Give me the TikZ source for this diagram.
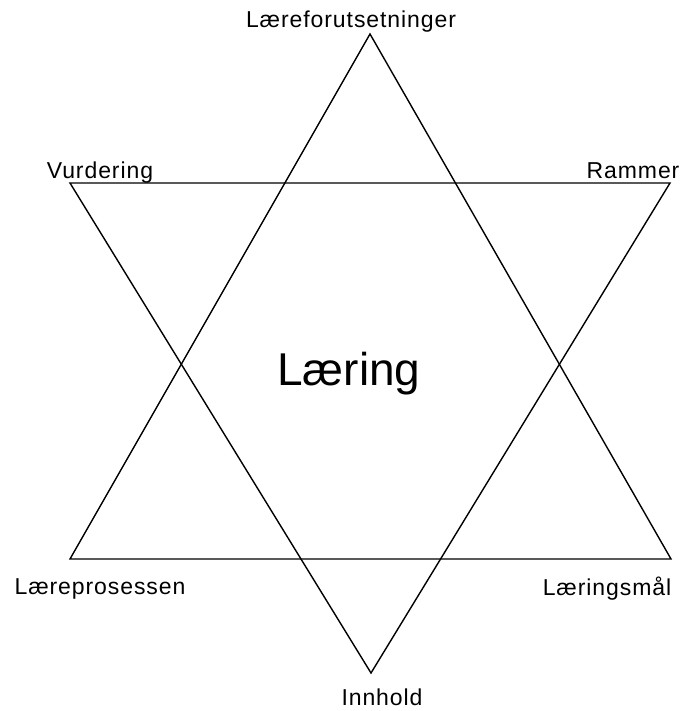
\documentclass[tikz,border=0pt]{standalone}
\usepackage{fontspec}
\setmainfont{Liberation Sans}
\newfontfamily\lblfont[LetterSpace=4]{Liberation Sans}
\begin{document}
\begin{tikzpicture}[x=1pt,y=-1pt,
  lbl/.style={inner sep=0pt,anchor=base,font=\lblfont\fontsize{23}{27}\selectfont},
  tri/.style={line width=1.4pt,line join=miter}
]
  \useasboundingbox (0,0) rectangle (687,711);
  % upward triangle
  \coordinate (top) at (370,34);
  \coordinate (bl)  at (70,559);
  \coordinate (br)  at (671,559);
  % downward triangle
  \coordinate (tl)  at (70,183);
  \coordinate (tr)  at (670,183);
  \coordinate (bot) at (371,673);
  \draw[tri] (top) -- (bl) -- (br) -- cycle;
  \draw[tri] (tl) -- (tr) -- (bot) -- cycle;
  % labels
  \node[lbl] (forut) at (351,28)  {Læreforutsetninger};
  \node[lbl] (vurd)  at (100,179) {Vurdering};
  \node[lbl] (ramme) at (633,179) {Rammer};
  \node[lbl] (prosess) at (100,594) {Læreprosessen};
  \node[lbl] (maal)  at (607,595) {Læringsmål};
  \node[lbl] (innh)  at (382,705) {Innhold};
  \node[inner sep=0pt,anchor=base,font=\fontsize{46}{50}\selectfont] (laering) at (349,385) {Læring};
\end{tikzpicture}
\end{document}
